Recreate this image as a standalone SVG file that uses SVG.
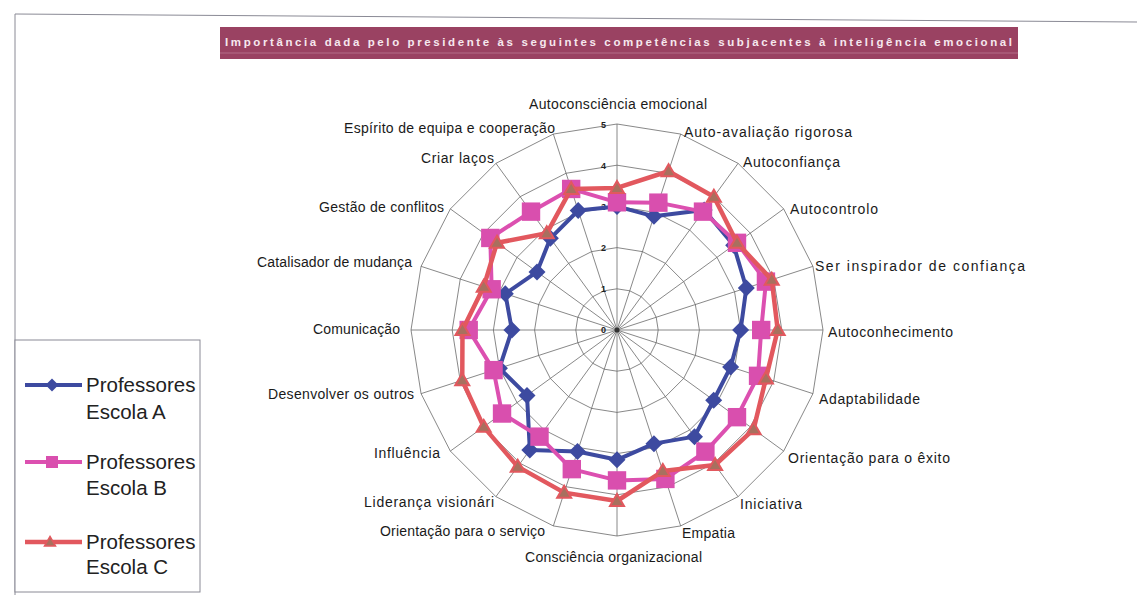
<svg xmlns="http://www.w3.org/2000/svg" width="1137" height="595" viewBox="0 0 1137 595">
<style>
.grid{fill:none;stroke:#6a6a6a;stroke-width:0.8}
.lbl{font-family:"Liberation Sans",Arial,sans-serif;font-size:14px;fill:#1a1a1a}
.tick{font-family:"Liberation Sans",Arial,sans-serif;font-size:9px;font-weight:bold;fill:#222;text-anchor:end}
.leg{font-family:"Liberation Sans",Arial,sans-serif;font-size:20.5px;fill:#222}
.sA{fill:none;stroke:#3d4aa0;stroke-width:4;stroke-linejoin:round}
.sB{fill:none;stroke:#dc50b0;stroke-width:4;stroke-linejoin:round}
.sC{fill:none;stroke:#e2585e;stroke-width:4.5;stroke-linejoin:round}
</style>
<defs>
<marker id="mA" markerUnits="userSpaceOnUse" markerWidth="20" markerHeight="20" refX="10" refY="10" overflow="visible"><path d="M10,1.5 L18.5,10 L10,18.5 L1.5,10Z" fill="#3d4aa0"/></marker>
<marker id="mB" markerUnits="userSpaceOnUse" markerWidth="20" markerHeight="20" refX="10" refY="10" overflow="visible"><rect x="0.8" y="0.8" width="18.4" height="18.4" fill="#d94fae"/></marker>
<marker id="mC" markerUnits="userSpaceOnUse" markerWidth="20" markerHeight="20" refX="10" refY="10" overflow="visible"><path d="M10,3 L17,15 L3,15Z" fill="#a8705e" stroke="#e2585e" stroke-width="2"/></marker>
<marker id="lA" markerUnits="userSpaceOnUse" markerWidth="14" markerHeight="14" refX="7" refY="7" overflow="visible"><path d="M7,0.5 L13.5,7 L7,13.5 L0.5,7Z" fill="#3d4aa0"/></marker>
<marker id="lB" markerUnits="userSpaceOnUse" markerWidth="14" markerHeight="14" refX="7" refY="7" overflow="visible"><rect x="1" y="1" width="12" height="12" fill="#d94fae"/></marker>
<marker id="lC" markerUnits="userSpaceOnUse" markerWidth="14" markerHeight="14" refX="7" refY="7" overflow="visible"><path d="M7,1.5 L12.5,11 L1.5,11Z" fill="#a8705e" stroke="#e2585e" stroke-width="1.5"/></marker>
</defs>
<rect width="1137" height="595" fill="#ffffff"/>
<g id="frame">
<line x1="15" y1="14" x2="1137" y2="22" stroke="#8a8a95" stroke-width="1"/>
<line x1="15" y1="14" x2="15" y2="595" stroke="#8a8a95" stroke-width="1"/>
</g>
<g id="title">
<rect x="220" y="27" width="798" height="32" fill="#9a4262"/>
<line x1="220" y1="53" x2="1018" y2="53" stroke="#c88aa2" stroke-width="1" opacity="0.6"/>
<text x="225" y="46" font-family="'Liberation Sans',Arial,sans-serif" font-size="11.5" font-weight="bold" fill="#f6e8ee" textLength="787" lengthAdjust="spacing">Importância dada pelo presidente às seguintes competências subjacentes à inteligência emocional</text>
</g>
<g id="grid" transform="translate(617,330)">
<polygon class="grid" points="0,-41.2 12.73,-39.19 24.22,-33.33 33.33,-24.22 39.19,-12.73 41.2,0 39.19,12.73 33.33,24.22 24.22,33.33 12.73,39.19 0,41.2 -12.73,39.19 -24.22,33.33 -33.33,24.22 -39.19,12.73 -41.2,0 -39.19,-12.73 -33.33,-24.22 -24.22,-33.33 -12.73,-39.19"/>
<polygon class="grid" points="0,-82.4 25.46,-78.37 48.43,-66.66 66.66,-48.43 78.37,-25.46 82.4,0 78.37,25.46 66.66,48.43 48.43,66.66 25.46,78.37 0,82.4 -25.46,78.37 -48.43,66.66 -66.66,48.43 -78.37,25.46 -82.4,0 -78.37,-25.46 -66.66,-48.43 -48.43,-66.66 -25.46,-78.37"/>
<polygon class="grid" points="0,-123.6 38.19,-117.56 72.65,-100 100,-72.65 117.56,-38.19 123.6,0 117.56,38.19 100,72.65 72.65,100 38.19,117.56 0,123.6 -38.19,117.56 -72.65,100 -100,72.65 -117.56,38.19 -123.6,0 -117.56,-38.19 -100,-72.65 -72.65,-100 -38.19,-117.56"/>
<polygon class="grid" points="0,-164.8 50.92,-156.74 96.87,-133.32 133.32,-96.87 156.74,-50.92 164.8,0 156.74,50.92 133.32,96.87 96.87,133.32 50.92,156.74 0,164.8 -50.92,156.74 -96.87,133.32 -133.32,96.87 -156.74,50.92 -164.8,0 -156.74,-50.92 -133.32,-96.87 -96.87,-133.32 -50.92,-156.74"/>
<polygon class="grid" points="0,-206 63.65,-195.93 121.09,-166.65 166.65,-121.09 195.93,-63.65 206,0 195.93,63.65 166.65,121.09 121.09,166.65 63.65,195.93 0,206 -63.65,195.93 -121.09,166.65 -166.65,121.09 -195.93,63.65 -206,0 -195.93,-63.65 -166.65,-121.09 -121.09,-166.65 -63.65,-195.93"/>
<path class="grid" d="M0,0L0,-206M0,0L63.65,-195.93M0,0L121.09,-166.65M0,0L166.65,-121.09M0,0L195.93,-63.65M0,0L206,0M0,0L195.93,63.65M0,0L166.65,121.09M0,0L121.09,166.65M0,0L63.65,195.93M0,0L0,206M0,0L-63.65,195.93M0,0L-121.09,166.65M0,0L-166.65,121.09M0,0L-195.93,63.65M0,0L-206,0M0,0L-195.93,-63.65M0,0L-166.65,-121.09M0,0L-121.09,-166.65M0,0L-63.65,-195.93"/>
<circle r="2.5" fill="#333"/>
<text class="tick" x="-11" y="3">0</text>
<text class="tick" x="-11" y="-38">1</text>
<text class="tick" x="-11" y="-79">2</text>
<text class="tick" x="-11" y="-120">3</text>
<text class="tick" x="-11" y="-161">4</text>
<text class="tick" x="-11" y="-202">5</text>
</g>
<g id="connectors" transform="translate(617,330)">
<polygon id="serieA" class="sA" marker-start="url(#mA)" marker-mid="url(#mA)" points="0,-123.6 36.92,-113.65 87.18,-119.99 116.66,-84.76 129.33,-42.02 123.6,0 113.65,36.92 96.67,70.24 77.49,106.65 36.92,113.65 0,129.8 -39.47,121.47 -87.18,119.99 -89.98,65.38 -117.56,38.19 -105.1,0 -111.68,-36.29 -80,-58.12 -66.6,-91.66 -38.83,-119.5"/>
<polygon id="serieB" class="sB" marker-start="url(#mB)" marker-mid="url(#mB)" points="0,-127.7 41.37,-127.35 85.99,-118.36 119.99,-87.18 148.94,-48.39 144.2,0 141.05,45.83 119.99,87.18 88.4,121.67 48.39,148.94 0,150.4 -45.2,139.14 -77.49,106.65 -114.96,83.53 -123.45,40.11 -148.3,0 -125.35,-40.73 -126.69,-92.05 -85.99,-118.36 -45.83,-141.05"/>
<polygon id="serieC" class="sC" marker-start="url(#mC)" marker-mid="url(#mC)" points="0,-142.1 51.57,-158.74 96.87,-133.32 119.99,-87.18 154.74,-50.27 160.7,0 148.94,48.39 136.64,99.28 98.1,135.02 45.83,141.05 0,171 -52.84,162.64 -99.28,136.64 -133.32,96.87 -154.74,50.27 -154.5,0 -133.25,-43.29 -119.99,-87.18 -70.24,-96.67 -45.83,-141.05"/>
</g>
<g id="labels">
<text id="n0" class="lbl" x="529" y="109" textLength="178" lengthAdjust="spacing">Autoconsciência emocional</text>
<text id="n1" class="lbl" x="684" y="137" textLength="168" lengthAdjust="spacing">Auto-avaliação rigorosa</text>
<text id="n2" class="lbl" x="743" y="167" textLength="97" lengthAdjust="spacing">Autoconfiança</text>
<text id="n3" class="lbl" x="790" y="214" textLength="88" lengthAdjust="spacing">Autocontrolo</text>
<text id="n4" class="lbl" x="815" y="271" textLength="210" lengthAdjust="spacing">Ser inspirador de confiança</text>
<text id="n5" class="lbl" x="828" y="337" textLength="125" lengthAdjust="spacing">Autoconhecimento</text>
<text id="n6" class="lbl" x="819" y="404" textLength="101" lengthAdjust="spacing">Adaptabilidade</text>
<text id="n7" class="lbl" x="788" y="463" textLength="162" lengthAdjust="spacing">Orientação para o êxito</text>
<text id="n8" class="lbl" x="740" y="509" textLength="62" lengthAdjust="spacing">Iniciativa</text>
<text id="n9" class="lbl" x="682" y="538" textLength="53" lengthAdjust="spacing">Empatia</text>
<text id="n10" class="lbl" x="525" y="562" textLength="177" lengthAdjust="spacing">Consciência organizacional</text>
<text id="n11" class="lbl" x="380" y="536" textLength="165" lengthAdjust="spacing">Orientação para o serviço</text>
<text id="n12" class="lbl" x="364" y="507" textLength="130" lengthAdjust="spacing">Liderança visionári</text>
<text id="n13" class="lbl" x="374" y="458" textLength="66" lengthAdjust="spacing">Influência</text>
<text id="n14" class="lbl" x="268" y="399" textLength="146" lengthAdjust="spacing">Desenvolver os outros</text>
<text id="n15" class="lbl" x="313" y="334" textLength="87" lengthAdjust="spacing">Comunicação</text>
<text id="n16" class="lbl" x="257" y="267" textLength="155" lengthAdjust="spacing">Catalisador de mudança</text>
<text id="n17" class="lbl" x="319" y="212" textLength="125" lengthAdjust="spacing">Gestão de conflitos</text>
<text id="n18" class="lbl" x="421" y="163" textLength="73" lengthAdjust="spacing">Criar laços</text>
<text id="n19" class="lbl" x="344" y="133" textLength="211" lengthAdjust="spacing">Espírito de equipa e cooperação</text>
</g>
<g id="legend">
<rect x="15" y="340" width="185" height="252" fill="#ffffff" stroke="#8a8a95" stroke-width="1"/>
<polyline class="sA" stroke-width="3" points="25,385 52,385 82,385" marker-mid="url(#lA)"/>
<text class="leg" x="86" y="392">Professores</text>
<text class="leg" x="86" y="419">Escola A</text>
<polyline class="sB" stroke-width="3" points="25,462 52,462 82,462" marker-mid="url(#lB)"/>
<text class="leg" x="86" y="469">Professores</text>
<text class="leg" x="86" y="495">Escola B</text>
<polyline class="sC" stroke-width="3" points="25,542 50,542 82,542" marker-mid="url(#lC)"/>
<text class="leg" x="86" y="549">Professores</text>
<text class="leg" x="86" y="574">Escola C</text>
</g>
</svg>
